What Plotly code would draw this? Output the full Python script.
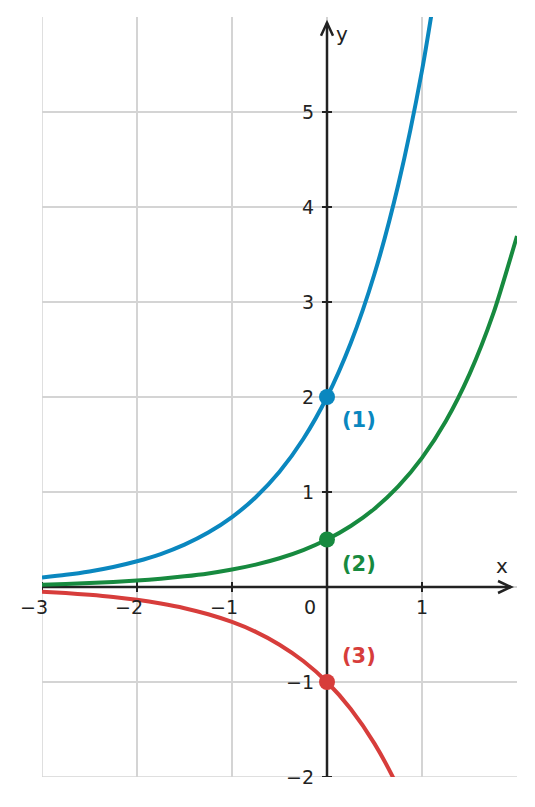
import plotly.graph_objects as go

# ---- data ----
xs = [-3, -2.75, -2.5, -2.25, -2, -1.75, -1.5, -1.25, -1, -0.75, -0.5, -0.25,
      0, 0.25, 0.5, 0.75, 1, 1.25, 1.5, 1.75, 2]
curve1 = [0.100, 0.128, 0.164, 0.211, 0.271, 0.347, 0.446, 0.573, 0.736, 0.945, 1.213, 1.558,
          2.000, 2.568, 3.297, 4.234, 5.437, 6.981]
curve2 = [0.025, 0.032, 0.041, 0.053, 0.068, 0.087, 0.112, 0.143, 0.184, 0.236, 0.303, 0.389,
          0.50, 0.642, 0.824, 1.059, 1.359, 1.745, 2.241, 2.877, 3.695]
curve3 = [-0.050, -0.064, -0.082, -0.105, -0.135, -0.174, -0.223, -0.287, -0.368, -0.472, -0.607, -0.779,
          -1.000, -1.284, -1.649, -2.117, -2.718]
points_y = [2, 0.5, -1]
labels = ["(1)", "(2)", "(3)"]
label_y = [1.76, 0.24, -0.73]
colors = ["#0a87bf", "#178a3f", "#d73d3b"]

x_tick_vals = [-3, -2, -1, 1]
x_tick_text = ["\u22123", "\u22122", "\u22121", "1"]
y_tick_vals = [-2, -1, 1, 2, 3, 4, 5]
y_tick_text = ["\u22122", "\u22121", "1", "2", "3", "4", "5"]

XR = [-3, 2]
YR = [-2, 6]
AX = "#222222"
GRID = "#d4d4d4"
FONT = "DejaVu Sans"

fig = go.Figure()
for ys, c in zip([curve1, curve2, curve3], colors):
    fig.add_trace(go.Scatter(x=xs[:len(ys)], y=ys, mode="lines",
                             line=dict(color=c, width=4, shape="spline", smoothing=0.7),
                             hoverinfo="skip", showlegend=False))
fig.add_trace(go.Scatter(x=[0, 0, 0], y=points_y, mode="markers",
                         marker=dict(color=colors, size=16),
                         cliponaxis=False, showlegend=False))

shapes = []
ux = (XR[1] - XR[0]) / 475.0   # data per px
uy = (YR[1] - YR[0]) / 760.0
# edge gridlines
shapes.append(dict(type="line", x0=XR[0], x1=XR[0], y0=YR[0], y1=YR[1], layer="below",
                   line=dict(color=GRID, width=1.5)))
shapes.append(dict(type="line", x0=XR[0], x1=XR[1], y0=YR[0], y1=YR[0], layer="below",
                   line=dict(color=GRID, width=1.5)))
# axes
xtip = 1.937
ytip = 5.94
shapes.append(dict(type="line", x0=XR[0], y0=0, x1=xtip, y1=0, layer="between",
                   line=dict(color=AX, width=2.5)))
shapes.append(dict(type="line", x0=0, y0=YR[0], x1=0, y1=ytip, layer="between",
                   line=dict(color=AX, width=2.5)))
shapes.append(dict(type="path",
                   path=f"M {xtip-13*ux},{6*uy} L {xtip},0 L {xtip-13*ux},{-6*uy}",
                   layer="between", line=dict(color=AX, width=2.5)))
shapes.append(dict(type="path",
                   path=f"M {-6*ux},{ytip-13*uy} L 0,{ytip} L {6*ux},{ytip-13*uy}",
                   layer="between", line=dict(color=AX, width=2.5)))
for v in x_tick_vals:
    shapes.append(dict(type="line", x0=v, x1=v, y0=-5*uy, y1=5*uy, layer="between",
                       line=dict(color=AX, width=2)))
for v in y_tick_vals:
    shapes.append(dict(type="line", y0=v, y1=v, x0=-5*ux, x1=5*ux, layer="between",
                       line=dict(color=AX, width=2)))

ann = []
for v, t in zip(x_tick_vals, x_tick_text):
    ann.append(dict(x=v, y=-0.21, text=t, showarrow=False, xshift=(-8 if v < 0 else 0),
                    font=dict(family=FONT, size=19, color=AX)))
ann.append(dict(x=-0.18, y=-0.21, text="0", showarrow=False,
                font=dict(family=FONT, size=19, color=AX)))
for v, t in zip(y_tick_vals, y_tick_text):
    ann.append(dict(x=-0.12, y=v, text=t, showarrow=False, xanchor="right",
                    font=dict(family=FONT, size=19, color=AX)))
ann.append(dict(x=1.84, y=0.22, text="x", showarrow=False,
                font=dict(family=FONT, size=20, color=AX)))
ann.append(dict(x=0.16, y=5.82, text="y", showarrow=False,
                font=dict(family=FONT, size=20, color=AX)))
for t, ly, c in zip(labels, label_y, colors):
    ann.append(dict(x=0.34, y=ly, text=f"<b>{t}</b>", showarrow=False,
                    font=dict(family=FONT, size=21, color=c)))

fig.update_layout(
    width=535, height=807,
    margin=dict(l=42, r=18, t=17, b=30),
    paper_bgcolor="white", plot_bgcolor="white",
    xaxis=dict(range=XR, dtick=1, tick0=0, showgrid=True, gridcolor=GRID, gridwidth=1.5,
               zeroline=False, showline=False, showticklabels=False, ticks=""),
    yaxis=dict(range=YR, dtick=1, tick0=0, showgrid=True, gridcolor=GRID, gridwidth=1.5,
               zeroline=False, showline=False, showticklabels=False, ticks=""),
    shapes=shapes, annotations=ann, showlegend=False,
)
fig.write_html("out.html")
